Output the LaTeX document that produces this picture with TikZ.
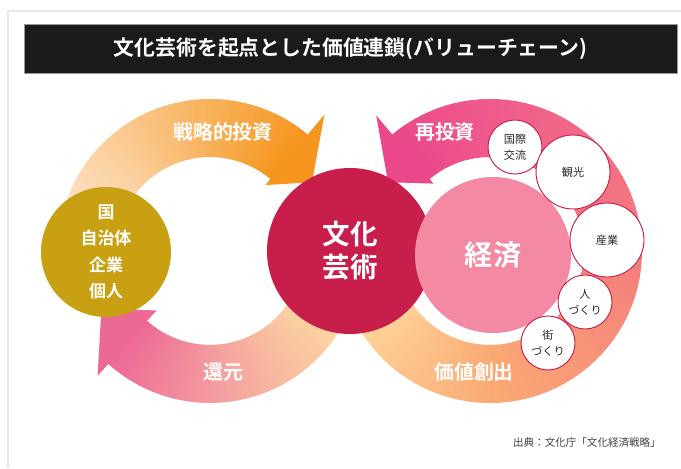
\documentclass[tikz,border=0pt]{standalone}
\usepackage{fontspec}
\setmainfont{Noto Sans CJK JP}[BoldFont={Noto Sans CJK JP Bold}]
\usetikzlibrary{calc}

\definecolor{gold}{RGB}{201,160,18}
\definecolor{crimson}{RGB}{200,30,75}
\definecolor{econpink}{RGB}{244,137,164}
\definecolor{peachpale}{RGB}{253,232,212}
\definecolor{orangedeep}{RGB}{246,150,30}
\definecolor{peachyellow}{RGB}{253,215,160}
\definecolor{salmonpink}{RGB}{245,165,160}
\definecolor{pinkdeep}{RGB}{236,105,150}
\definecolor{rpeach}{RGB}{253,212,155}
\definecolor{rorange}{RGB}{251,170,115}
\definecolor{rsalmon}{RGB}{244,125,125}
\definecolor{rpink}{RGB}{240,90,140}
\definecolor{rhot}{RGB}{234,72,138}
\definecolor{titlebg}{RGB}{26,26,26}
\definecolor{framegray}{RGB}{232,232,232}
\definecolor{smalltext}{RGB}{40,40,40}

\newcommand{\bandarc}[6]{%
  \foreach \i in {1,...,#6}{
    \pgfmathsetmacro\angA{#2+(#3-#2)*(\i-1)/#6}
    \pgfmathsetmacro\angB{\angA+1.3*(#3-#2)/#6}
    \pgfmathsetmacro\mixp{100*(\i-0.5)/#6}
    \draw[band,draw=#5!\mixp!#4] ([shift={(\angA:123)}]#1) arc[start angle=\angA,end angle=\angB,radius=123];
  }}

\begin{document}
\begin{tikzpicture}[x=0.03cm,y=0.03cm]
\tikzstyle{every node}+=[inner sep=0pt]
\tikzstyle{band}=[line width=1.74cm]
\tikzstyle{titlebox}=[fill=titlebg,draw=black!40,line width=0.4pt,minimum width=19.59cm,minimum height=1.47cm,text=white,font=\fontsize{17.8}{21}\selectfont\bfseries]
\tikzstyle{arrowlabel}=[text=white,font=\fontsize{17}{20}\selectfont\bfseries]
\tikzstyle{smallcircle}=[circle,fill=white,draw=crimson,line width=0.8pt,align=center,text=smalltext,font=\fontsize{9.5}{13.5}\selectfont]

\useasboundingbox (0,0) rectangle (681,468);
\draw[framegray,line width=0.06cm] (7.5,0) -- (7.5,456.5) -- (681,456.5);

\node[titlebox] (title) at (350.5,419.5) {文化芸術を起点とした価値連鎖(バリューチェーン)};

\coordinate (L) at (210,217);
\coordinate (R) at (490,217);

\bandarc{L}{172}{50}{peachpale}{orangedeep}{50}
\bandarc{L}{-30}{-81}{peachyellow}{salmonpink}{25}
\bandarc{L}{-81}{-132}{salmonpink}{pinkdeep}{25}
\bandarc{R}{210}{270}{rpeach}{rorange}{20}
\bandarc{R}{270}{360}{rorange}{rsalmon}{25}
\bandarc{R}{360}{450}{rsalmon}{rpink}{25}
\bandarc{R}{450}{490}{rpink}{rhot}{12}

\fill[orangedeep,shift={(L)}] (50:86) -- (50:178) -- (34:123) -- cycle;
\fill[pinkdeep,shift={(L)}] (-132:80) -- (-132:168) -- (-152:123) -- cycle;
\fill[rhot,shift={(R)}] (490:88) -- (490:177) -- (506:123) -- cycle;

\node[circle,fill=gold,minimum size=3.9cm,align=center,text=white,font=\fontsize{14.5}{22.5}\selectfont\bfseries] (actors) at (106,216) {国\\自治体\\企業\\個人};
\node[circle,fill=crimson,minimum size=4.98cm,align=center,text=white,font=\fontsize{23.5}{28}\selectfont\bfseries] (culture) at (350,217) {文化\\芸術};
\node[circle,fill=econpink,minimum size=4.68cm,text=white,font=\fontsize{24}{28}\selectfont\bfseries] (economy) at (493,213) {経済};

\node[smallcircle,minimum size=1.62cm] (intl) at (515,321) {国際\\交流};
\node[smallcircle,minimum size=2.22cm] (tourism) at (573,296) {観光};
\node[smallcircle,minimum size=2.22cm] (industry) at (607,228) {産業};
\node[smallcircle,minimum size=1.62cm] (people) at (585,166) {人\\づくり};
\node[smallcircle,minimum size=1.62cm] (town) at (548,125) {街\\づくり};

\node[arrowlabel] (invest) at (223,336) {戦略的投資};
\node[arrowlabel] (reinvest) at (445,336) {再投資};
\node[arrowlabel] (return) at (223,96) {還元};
\node[arrowlabel] (create) at (474,96) {価値創出};

\node[anchor=east,text=black!75,font=\fontsize{9}{11}\selectfont] (source) at (661,25) {出典：文化庁「文化経済戦略」};
\end{tikzpicture}
\end{document}
